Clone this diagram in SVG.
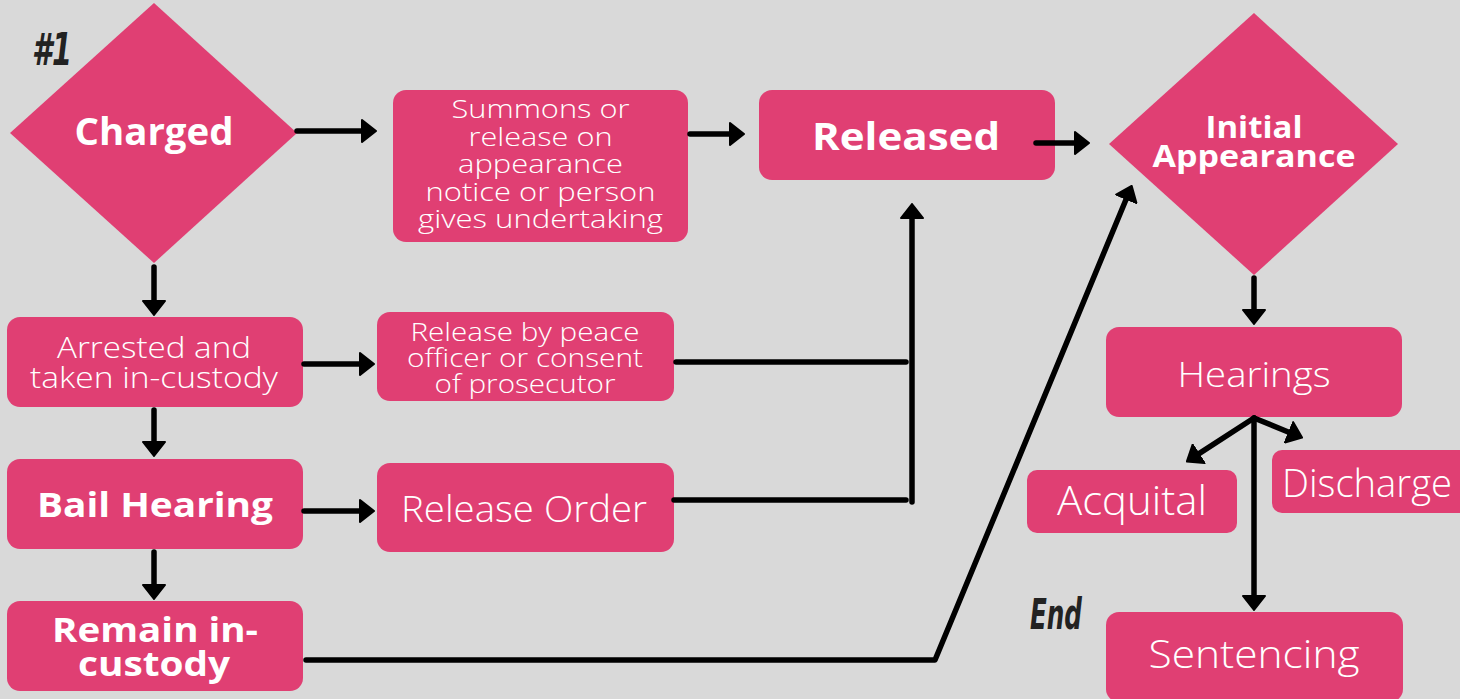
<svg xmlns="http://www.w3.org/2000/svg" width="1460" height="699" viewBox="0 0 1460 699">
<defs>
<marker id="ah" viewBox="0 0 16 24" refX="6" refY="12" markerWidth="16" markerHeight="24" markerUnits="userSpaceOnUse" orient="auto">
<path d="M1,1 L15,12 L1,23 z" fill="#000" stroke="#000" stroke-width="2" stroke-linejoin="round"/>
</marker>
<style>
.bg{fill:#d9d9d9}
.n{fill:#e03f73}
.t{font-family:"Open Sans","Liberation Sans",sans-serif;font-weight:300;fill:#fff;text-anchor:middle}
.b{font-weight:700}
.lbl{font-family:"DejaVu Sans Condensed","Liberation Sans Narrow","Liberation Sans",sans-serif;font-style:italic;font-weight:700;fill:#222}
.c{fill:none;stroke:#000;stroke-width:5.5;stroke-linecap:round;stroke-linejoin:round}
.a{marker-end:url(#ah)}
</style>
</defs>
<rect class="bg" x="0" y="0" width="1460" height="699"/>
<text class="lbl" x="32" y="65" font-size="44" textLength="40" lengthAdjust="spacingAndGlyphs">#1</text>
<text class="lbl" x="1030" y="629" font-size="42" textLength="52" lengthAdjust="spacingAndGlyphs">End</text>

<g id="charged">
<polygon class="n" points="154,3 297,133 154,263 10,133"/>
<text class="t b" x="154" y="145" font-size="37" textLength="159" lengthAdjust="spacingAndGlyphs">Charged</text>
</g>
<g id="summons">
<rect class="n" x="393" y="90" width="295" height="152" rx="13"/>
<text class="t" font-size="26"><tspan x="540.5" y="118" textLength="178" lengthAdjust="spacingAndGlyphs">Summons or</tspan><tspan x="540.5" y="145.5" textLength="144" lengthAdjust="spacingAndGlyphs">release on</tspan><tspan x="540.5" y="173" textLength="165" lengthAdjust="spacingAndGlyphs">appearance</tspan><tspan x="540.5" y="200.5" textLength="230" lengthAdjust="spacingAndGlyphs">notice or person</tspan><tspan x="540.5" y="228" textLength="245" lengthAdjust="spacingAndGlyphs">gives undertaking</tspan></text>
</g>
<g id="released">
<rect class="n" x="759" y="90" width="296" height="90" rx="13"/>
<text class="t b" x="906" y="150" font-size="38" textLength="188" lengthAdjust="spacingAndGlyphs">Released</text>
</g>
<g id="initial">
<polygon class="n" points="1254,13 1398,144 1254,275 1109,144"/>
<text class="t b" font-size="30"><tspan x="1254" y="138" textLength="97" lengthAdjust="spacingAndGlyphs">Initial</tspan><tspan x="1254" y="167" textLength="203" lengthAdjust="spacingAndGlyphs">Appearance</tspan></text>
</g>
<g id="arrested">
<rect class="n" x="7" y="317" width="296" height="90" rx="13"/>
<text class="t" font-size="30"><tspan x="154" y="358" textLength="194" lengthAdjust="spacingAndGlyphs">Arrested and</tspan><tspan x="154" y="388" textLength="248" lengthAdjust="spacingAndGlyphs">taken in-custody</tspan></text>
</g>
<g id="bail">
<rect class="n" x="7" y="459" width="296" height="90" rx="13"/>
<text class="t b" x="155" y="517" font-size="34" textLength="236" lengthAdjust="spacingAndGlyphs">Bail Hearing</text>
</g>
<g id="remain">
<rect class="n" x="7" y="601" width="296" height="90" rx="13"/>
<text class="t b" font-size="34"><tspan x="155" y="642" textLength="206" lengthAdjust="spacingAndGlyphs">Remain in-</tspan><tspan x="154" y="676" textLength="152" lengthAdjust="spacingAndGlyphs">custody</tspan></text>
</g>
<g id="peace">
<rect class="n" x="377" y="312" width="297" height="89" rx="13"/>
<text class="t" font-size="25"><tspan x="525" y="341" textLength="229" lengthAdjust="spacingAndGlyphs">Release by peace</tspan><tspan x="525" y="367" textLength="236" lengthAdjust="spacingAndGlyphs">officer or consent</tspan><tspan x="525" y="393" textLength="181" lengthAdjust="spacingAndGlyphs">of prosecutor</tspan></text>
</g>
<g id="order">
<rect class="n" x="377" y="463" width="297" height="89" rx="13"/>
<text class="t" x="524" y="522" font-size="36" textLength="246" lengthAdjust="spacingAndGlyphs">Release Order</text>
</g>
<g id="hearings">
<rect class="n" x="1106" y="327" width="296" height="90" rx="13"/>
<text class="t" x="1254" y="387" font-size="35" textLength="153" lengthAdjust="spacingAndGlyphs">Hearings</text>
</g>
<g id="acquital">
<rect class="n" x="1027" y="470" width="210" height="63" rx="10"/>
<text class="t" x="1132" y="515" font-size="40" textLength="150" lengthAdjust="spacingAndGlyphs">Acquital</text>
</g>
<g id="discharge">
<rect class="n" x="1272" y="450" width="200" height="63" rx="10"/>
<text class="t" x="1367" y="497" font-size="38" textLength="170" lengthAdjust="spacingAndGlyphs">Discharge</text>
</g>
<g id="sentencing">
<rect class="n" x="1106" y="612" width="297" height="90" rx="13"/>
<text class="t" x="1254" y="668" font-size="39" textLength="211" lengthAdjust="spacingAndGlyphs">Sentencing</text>
</g>

<g id="connectors">
<path class="c a" d="M297,131 L367,131"/>
<path class="c a" d="M690,134 L735,134"/>
<path class="c a" d="M1036,143 L1080,143"/>
<path class="c a" d="M154,267 L154,306"/>
<path class="c a" d="M304,364 L365,364"/>
<path class="c a" d="M154,410 L154,447"/>
<path class="c a" d="M304,511 L365,511"/>
<path class="c a" d="M154,552 L154,590"/>
<path class="c" d="M676,362 L906,362"/>
<path class="c" d="M674,500 L906,500"/>
<path class="c a" d="M912,502 L912,213"/>
<path class="c a" d="M306,660 L935,660 L1128.2,194.2"/>
<path class="c a" d="M1254,278 L1254,315"/>
<path class="c a" d="M1254,418 L1194.4,456.6"/>
<path class="c a" d="M1254,418 L1293.7,434.2"/>
<path class="c a" d="M1254,418 L1254,601"/>
</g>
</svg>
